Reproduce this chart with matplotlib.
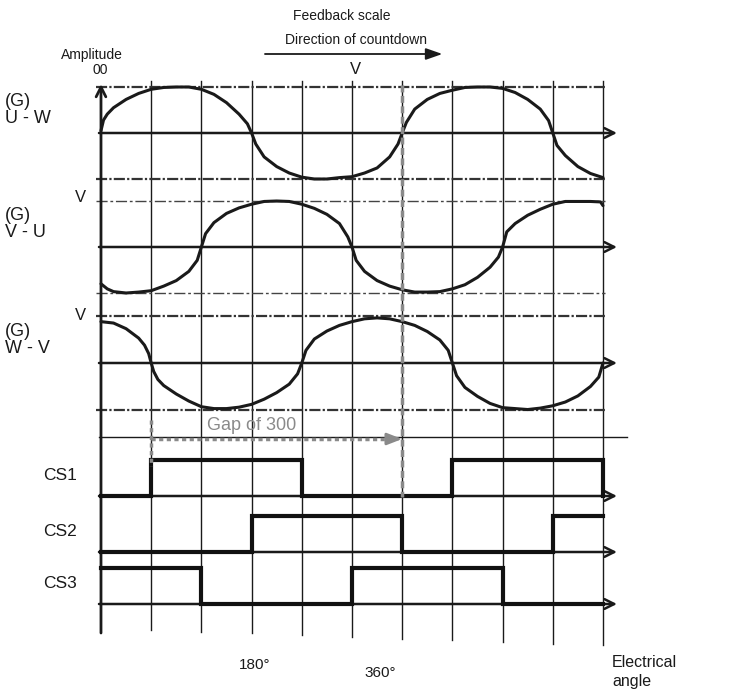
import matplotlib
matplotlib.use("Agg")
import matplotlib.pyplot as plt

# ---------------- data ----------------
grid_deg = [60, 120, 180, 240, 300, 360, 420, 480, 540, 600]

uw_deg = [0, 3, 7.5, 15, 30, 45, 60, 75, 90, 105, 120, 135, 150, 165, 175, 180, 185, 195, 210, 225,
          240, 255, 270, 285, 300, 315, 330, 345, 355, 360, 365, 375, 390, 405, 420, 435, 450, 465,
          480, 495, 510, 525, 535, 540, 545, 555, 570, 585, 600]
uw_val = [0.05, 0.28, 0.41, 0.55, 0.73, 0.86, 0.95, 0.99, 1.0, 1.0, 0.95, 0.84, 0.66, 0.41, 0.2, 0.0,
          -0.24, -0.52, -0.73, -0.87, -0.96, -1.0, -1.0, -0.97, -0.95, -0.87, -0.76, -0.52, -0.24, 0.0,
          0.23, 0.52, 0.73, 0.86, 0.93, 0.99, 1.0, 1.0, 0.97, 0.88, 0.73, 0.52, 0.27, 0.0, -0.27,
          -0.49, -0.73, -0.88, -0.97]

vu_deg = [0, 7.5, 15, 30, 45, 60, 75, 90, 105, 115, 120, 125, 135, 150, 165, 180, 195, 210, 225,
          240, 255, 270, 285, 295, 300, 305, 315, 330, 345, 360, 375, 390, 405, 420, 435, 450, 465,
          475, 480, 485, 495, 510, 525, 540, 555, 570, 585, 597, 600]
vu_val = [-0.80, -0.91, -0.97, -1.0, -0.98, -0.95, -0.85, -0.73, -0.53, -0.29, 0.0, 0.29, 0.53, 0.73,
          0.85, 0.93, 0.99, 1.0, 0.99, 0.93, 0.84, 0.71, 0.51, 0.22, 0.0, -0.29, -0.53, -0.73, -0.85,
          -0.93, -0.98, -0.98, -0.97, -0.91, -0.82, -0.66, -0.44, -0.22, 0.0, 0.33, 0.51, 0.69, 0.82,
          0.93, 0.99, 0.99, 0.99, 0.98, 0.9]

wv_deg = [0, 15, 30, 45, 52, 57, 60, 63, 68, 75, 90, 105, 120, 135, 150, 165, 180, 195, 210, 225,
          235, 240, 245, 255, 270, 285, 300, 315, 330, 345, 360, 375, 390, 405, 415, 420, 425, 435,
          450, 465, 480, 495, 510, 525, 540, 555, 570, 585, 595, 600]
wv_val = [0.88, 0.85, 0.73, 0.53, 0.38, 0.2, 0.0, -0.18, -0.35, -0.48, -0.66, -0.81, -0.93, -0.97,
          -0.97, -0.94, -0.88, -0.77, -0.63, -0.45, -0.23, 0.0, 0.27, 0.51, 0.68, 0.80, 0.88, 0.94,
          0.96, 0.94, 0.88, 0.80, 0.67, 0.49, 0.27, 0.0, -0.27, -0.52, -0.71, -0.86, -0.95, -0.97,
          -0.99, -0.96, -0.91, -0.83, -0.70, -0.50, -0.30, 0.0]

cs1_edges = [0, 60, 240, 420, 600]
cs1_state = [0, 1, 0, 1, 0]
cs2_edges = [0, 180, 360, 540, 600]
cs2_state = [0, 1, 0, 1, 1]
cs3_edges = [0, 120, 300, 480, 600]
cs3_state = [1, 0, 1, 0, 0]

wave_labels = ["(G)\nU - W", "(G)\nV - U", "(G)\nW - V"]
cs_labels = ["CS1", "CS2", "CS3"]
angle_ticks = [180, 360]
angle_labels = ["180°", "360°"]

# ---------------- layout ----------------
FONT = "Liberation Sans"
plt.rcParams["font.family"] = [FONT, "DejaVu Sans"]

fig = plt.figure(figsize=(7.3, 6.89), dpi=100)
ax = fig.add_axes([0, 0, 1, 1])
ax.set_xlim(-120.7, 751.8)
ax.set_ylim(689, 0)
ax.axis("off")

wave_base = [133, 247, 363]
wave_amp = [46, 46, 47]
cs_base = [496, 552, 604]
cs_high = 36

x_left = -2.4
x_arrow = 616.7

# vertical grid
for i, g in enumerate(grid_deg):
    ax.plot([g, g], [81, 630 + 1.7 * i], color="#1a1a1a", lw=1.0, zorder=1)

# amplitude reference lines
ref_style = [dict(lw=1.6, color="#333333", ls=(0, (5, 1, 1, 1))),
             dict(lw=1.0, color="#444444", ls=(0, (8, 2, 2, 2))),
             dict(lw=1.6, color="#333333", ls=(0, (5, 1, 1, 1)))]
for b, a, st in zip(wave_base, wave_amp, ref_style):
    ax.plot([-6, 602], [b - a, b - a], zorder=1, **st)
    ax.plot([-6, 602], [b + a, b + a], zorder=1, **st)

# horizontal axes with arrows
for b in wave_base + cs_base:
    ax.annotate("", xy=(x_arrow, b), xytext=(x_left, b),
                arrowprops=dict(arrowstyle="->,head_length=0.7,head_width=0.35",
                                lw=1.8, color="#1a1a1a", shrinkA=0, shrinkB=0), zorder=2)

# separator line
ax.plot([x_left, 628.7], [437, 437], color="#1a1a1a", lw=1.0, zorder=1)

# left vertical axis
ax.annotate("", xy=(0, 84), xytext=(0, 633),
            arrowprops=dict(arrowstyle="->,head_length=0.7,head_width=0.35",
                            lw=2.0, color="#1a1a1a", shrinkA=0, shrinkB=0), zorder=3)

# waveforms
for degs, vals, b, a in [(uw_deg, uw_val, wave_base[0], wave_amp[0]),
                         (vu_deg, vu_val, wave_base[1], wave_amp[1]),
                         (wv_deg, wv_val, wave_base[2], wave_amp[2])]:
    ax.plot(degs, [b - a * v for v in vals], color="#1a1a1a", lw=2.2,
            solid_joinstyle="round", solid_capstyle="round", zorder=4)

# CS signals
for edges, states, b in [(cs1_edges, cs1_state, cs_base[0]),
                         (cs2_edges, cs2_state, cs_base[1]),
                         (cs3_edges, cs3_state, cs_base[2])]:
    ax.step(edges, [b - cs_high * s for s in states], where="post",
            color="#111111", lw=3.0, solid_joinstyle="miter", zorder=4)

# gray annotations
gray = "#8a8a8a"
ax.plot([360, 360], [85, 497], color=gray, lw=2.5, ls=(0, (2, 1)), zorder=5)
ax.plot([60, 60], [420, 466], color=gray, lw=2.5, ls=(0, (1.2, 1)), zorder=5)
ax.plot([60, 346], [439, 439], color=gray, lw=2.5, ls=(0, (1.2, 1)), zorder=5)
ax.annotate("", xy=(360, 439), xytext=(344, 439),
            arrowprops=dict(arrowstyle="-|>,head_length=0.9,head_width=0.35",
                            lw=2.0, color=gray, shrinkA=0, shrinkB=0), zorder=5)
ax.text(127, 426, "Gap of 300", color=gray, fontsize=13, ha="left", va="center")

# top annotations
ax.text(288, 16, "Feedback scale", fontsize=10, ha="center", va="center", color="#1a1a1a")
ax.text(305, 40, "Direction of countdown", fontsize=10, ha="center", va="center", color="#1a1a1a")
ax.annotate("", xy=(408, 54), xytext=(196, 54),
            arrowprops=dict(arrowstyle="-|>,head_length=1.0,head_width=0.35",
                            lw=1.3, color="#1a1a1a", shrinkA=0, shrinkB=0))
ax.text(303.6, 70, "V", fontsize=12, ha="center", va="center", color="#1a1a1a")
ax.text(-10.8, 55, "Amplitude", fontsize=10, ha="center", va="center", color="#1a1a1a")
ax.text(-1, 70, "00", fontsize=10, ha="center", va="center", color="#1a1a1a")

# left labels
for lab, b in zip(wave_labels, wave_base):
    ax.text(-114.7, b - 23, lab, fontsize=13, ha="left", va="center", linespacing=1.05,
            color="#1a1a1a")
ax.text(-25, 198, "V", fontsize=12, ha="center", va="center", color="#1a1a1a")
ax.text(-25, 315, "V", fontsize=12, ha="center", va="center", color="#1a1a1a")
for lab, b in zip(cs_labels, cs_base):
    ax.text(-49, b - 20, lab, fontsize=12.5, ha="center", va="center", color="#1a1a1a")

# angle labels
ax.text(184, 665, angle_labels[0], fontsize=11, ha="center", va="center", color="#1a1a1a")
ax.text(333.5, 673, angle_labels[1], fontsize=11, ha="center", va="center", color="#1a1a1a")
ax.text(611, 672, "Electrical\nangle", fontsize=11.5, ha="left", va="center", linespacing=1.3,
        color="#1a1a1a")

fig.savefig("out.png", dpi=100)
